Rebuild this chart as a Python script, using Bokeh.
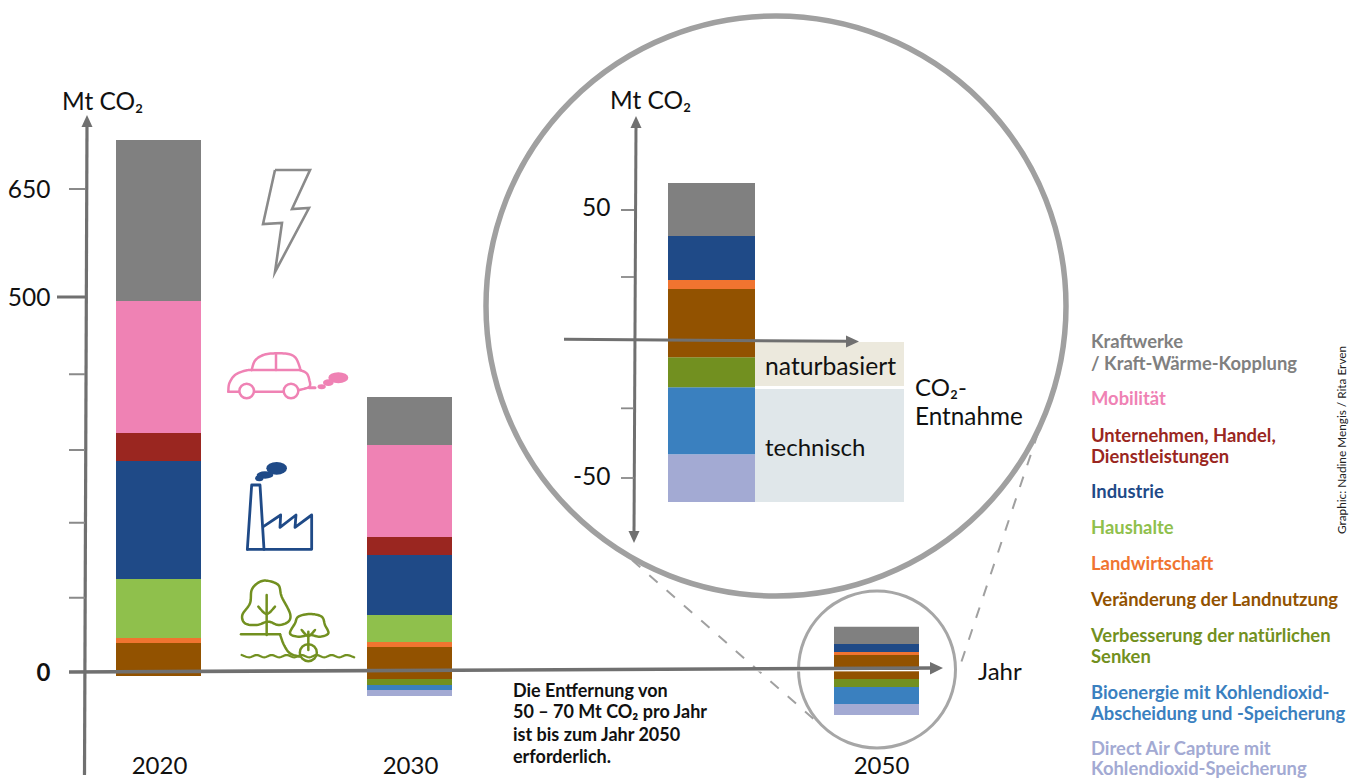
import numpy as np
from bokeh.plotting import figure
from bokeh.models import Range1d
from bokeh.core.properties import value
from bokeh.embed import file_html
from bokeh.resources import INLINE

# ---------- data ----------
SERIES = ["Direct Air Capture", "Bioenergie", "Verbesserung Senken", "Landnutzung", "Landwirtschaft",
          "Haushalte", "Industrie", "Unternehmen", "Mobilität", "Kraftwerke"]
BASE_2020 = -5.3
VALUES_2020 = [0, 0, 0, 44, 6.7, 78.7, 157.3, 37.3, 176, 214.7]
BASE_2030 = -32
VALUES_2030 = [8, 6.7, 8, 42.7, 6.7, 36, 80, 24, 122.7, 64]
BASE_2050 = -57.3
VALUES_2050 = [14.7, 22.7, 10.7, 32, 4, 0, 10.7, 0, 0, 22.7]
BASE_ZOOM = -59
VALUES_ZOOM = [17.9, 25, 11.2, 25.4, 3.4, 0, 16.4, 0, 0, 19.8]
YEARS = ["2020", "2030", "2050"]
MAIN_TICKS = [644, 500, 397, 296, 199, 99]
MAIN_LABELS = ["650", "500", "", "", "", ""]
ZOOM_TICKS = [50, 25, -24, -50]
ZOOM_LABELS = ["50", "", "", "-50"]
LEGEND = [
    ("Kraftwerke", "#808080"), ("/ Kraft-Wärme-Kopplung", "#808080"), ("Mobilität", "#EF82B4"),
    ("Unternehmen, Handel,", "#9A2620"), ("Dienstleistungen", "#9A2620"), ("Industrie", "#1F4A87"),
    ("Haushalte", "#8FC04C"), ("Landwirtschaft", "#F07430"), ("Veränderung der Landnutzung", "#925200"),
    ("Verbesserung der natürlichen", "#729020"), ("Senken", "#729020"),
    ("Bioenergie mit Kohlendioxid-", "#3A80BF"), ("Abscheidung und -Speicherung", "#3A80BF"),
    ("Direct Air Capture mit", "#A3AAD3"), ("Kohlendioxid-Speicherung", "#A3AAD3"),
]
NOTE = ["Die Entfernung von", "50 – 70 Mt CO₂ pro Jahr", "ist bis zum Jahr 2050", "erforderlich."]

# ---------- layout / style ----------
COLORS = ["#A3AAD3", "#3A80BF", "#729020", "#925200", "#F07430", "#8FC04C", "#1F4A87", "#9A2620", "#EF82B4", "#808080"]
LEGEND_Y = [340.5, 362.5, 397.5, 434.5, 455.5, 490.5, 526.5, 562.5, 598.5, 634.5, 655.5, 691.5, 712.5, 748, 767.5]
NOTE_Y = [689.5, 710.5, 733.5, 755.5]
FONT = value("Lato")
AXC = "#707070"
W, H = 1360, 778
ZERO_PX, MAIN_K = 672, 0.75
ZZERO_PX, ZOOM_K = 344, 2.68
SHIFT = 0.5  # small offset between the page's picture and the traced grid

p = figure(width=W, height=H, output_backend="svg", toolbar_location=None,
           x_range=Range1d(SHIFT, W + SHIFT),
           y_range=Range1d((ZERO_PX - H - SHIFT) / MAIN_K, (ZERO_PX - SHIFT) / MAIN_K),
           min_border=0, outline_line_color=None)
p.extra_y_ranges = {
    "px": Range1d(H + SHIFT, SHIFT),
    "zoom": Range1d((ZZERO_PX - H - SHIFT) / ZOOM_K, (ZZERO_PX - SHIFT) / ZOOM_K),
}
p.xaxis.visible = False
p.yaxis.visible = False
p.xgrid.visible = False
p.ygrid.visible = False


def stack(center, width, base, values, rng="default"):
    bottom = base
    for v, c in zip(values, COLORS):
        if v > 0:
            p.vbar(x=[center], width=width, bottom=[bottom], top=[bottom + v], fill_color=c,
                   line_color=None, y_range_name=rng)
        bottom += v


def smooth(pts, closed=False, n=8):
    pts = np.array(pts, float)
    if closed:
        P = np.vstack([pts[-1], pts, pts[0], pts[1]])
    else:
        P = np.vstack([pts[0], pts, pts[-1]])
    out = []
    for i in range(1, len(P) - 2):
        for t in np.linspace(0, 1, n, endpoint=False):
            a, b, c, d = P[i - 1], P[i], P[i + 1], P[i + 2]
            out.append(0.5 * (2 * b + (c - a) * t + (2 * a - 5 * b + 4 * c - d) * t ** 2 + (3 * b - a - 3 * c + d) * t ** 3))
    if not closed:
        out.append(P[-2])
    else:
        out.append(out[0])
    return np.array(out)


def px_line(xs, ys, color, width, **kw):
    p.line(list(xs), list(ys), line_color=color, line_width=width, y_range_name="px", **kw)


def tri(xs, ys, color=AXC):
    p.patch(xs, ys, fill_color=color, line_color=None, y_range_name="px")


def txt(x, y, s, size=24, color="#111111", align="left", bold=False, rng="px", angle=0):
    p.text([x], [y], text=[s], text_font=FONT, text_font_size=f"{size}px", text_color=color,
           text_align=align, text_baseline="middle", text_font_style="bold" if bold else "normal",
           y_range_name=rng, angle=angle)


# side boxes of the inset
p.quad(left=[755], right=[904], top=[342], bottom=[386], fill_color="#ECE9DD", line_color=None, y_range_name="px")
p.quad(left=[755], right=[904], top=[389], bottom=[502], fill_color="#E0E7EA", line_color=None, y_range_name="px")

# bars
stack(158.5, 85, BASE_2020, VALUES_2020)
stack(409.5, 85, BASE_2030, VALUES_2030)
stack(876.5, 85, BASE_2050, VALUES_2050)
stack(711.5, 87, BASE_ZOOM, VALUES_ZOOM, "zoom")

# circles and dashed connectors
p.circle(x=[776], y=[306], radius=290, fill_color=None, line_color="#A0A0A0", line_width=5.5, y_range_name="px")
p.circle(x=[877], y=[669.5], radius=78.5, fill_color=None, line_color="#A6A6A6", line_width=3, y_range_name="px")
px_line([632, 817], [560, 722], "#A0A0A0", 2, line_dash="11 12")
px_line([1038, 961], [433, 663], "#A0A0A0", 2, line_dash="11 12")

# main axes
px_line([87, 84.5], [124, 775], AXC, 3.2)
tri([87, 81.5, 92.5], [115, 127, 127])
px_line([350, 935], [670.9, 670.6], "#FFFFFF", 1.4)
px_line([69, 932], [672, 668], AXC, 3.6)
tri([943, 930, 930], [668, 662, 674.5])
for t, lab in zip(MAIN_TICKS, MAIN_LABELS):
    thick = lab == "500"
    p.segment(x0=[57 if thick else 69], x1=[85], y0=[t], y1=[t], line_color=AXC if thick else "#8A8A8A",
              line_width=3.2 if thick else 1.8)
    if lab:
        txt(50.5, t, lab, 24.5, align="right", rng="default")
txt(50.5, 0, "0", 24, align="right", bold=True, rng="default")

# inset axes
px_line([636, 634], [124, 535], AXC, 3)
tri([636, 630.5, 641.5], [116, 128, 128])
tri([634, 628.5, 639.5], [543, 531, 531])
px_line([564, 848], [339.3, 341.3], AXC, 3)
tri([859, 846, 846], [341.5, 335.5, 347.5])
for t, lab in zip(ZOOM_TICKS, ZOOM_LABELS):
    p.segment(x0=[621], x1=[634], y0=[t], y1=[t], line_color="#8A8A8A", line_width=1.8, y_range_name="zoom")
    if lab:
        txt(610.5, t + 1.2 if lab == "50" else t + 0.7, lab, 24.5, align="right", rng="zoom")


# icons: traced on a local grid
def ix(a):
    return 210 + np.asarray(a, float) / 3


def iy(a):
    return 340 + np.asarray(a, float) / 3


def icon(pts, color, width=2.5, is_smooth=False, closed=False):
    pts = np.array(pts, float)
    if is_smooth:
        pts = smooth(pts, closed)
    px_line(ix(pts[:, 0]), iy(pts[:, 1]), color, width, line_join="round", line_cap="round")


# bolt
px_line([275, 310, 292, 309, 275, 282, 263, 275], [170, 170, 209, 208, 272, 223, 224, 170], "#8A8A8A", 2.6,
        line_join="miter")

# car
PINK = "#EF82B4"
icon([(55, 155), (58, 130), (75, 105), (105, 92), (125, 90)], PINK, is_smooth=True)
icon([(125, 90), (270, 90)], PINK)
icon([(270, 90), (290, 100), (298, 120), (298, 140), (268, 150)], PINK, is_smooth=True)
icon([(55, 155), (90, 155)], PINK)
icon([(130, 155), (220, 155)], PINK)
icon([(125, 90), (135, 62), (160, 45), (195, 40), (235, 42), (258, 55), (272, 90)], PINK, is_smooth=True)
icon([(198, 40), (198, 90)], PINK)
p.circle(x=[ix(110), ix(243)], y=[iy(153), iy(153)], radius=7.3, fill_color="#FFFFFF", line_color=PINK,
         line_width=2.5, y_range_name="px")
icon([(298, 143), (315, 143)], PINK, 3)
for cx, cy, w, h in [(385, 113, 60, 33), (355, 128, 32, 20), (335, 140, 25, 15)]:
    p.ellipse(x=[ix(cx)], y=[iy(cy)], width=w / 3, height=h / 3, fill_color=PINK, line_color=None, y_range_name="px")

# factory
BLUE = "#1F4A87"
icon([(112, 628), (125, 435), (150, 435), (162, 628)], BLUE, 2.8)
icon([(112, 628), (305, 628), (305, 525), (255, 562), (258, 525), (210, 562), (212, 525), (160, 560)], BLUE, 2.8)
for cx, cy, w, h in [(200, 385, 62, 38), (165, 405, 50, 22), (148, 415, 25, 18)]:
    p.ellipse(x=[ix(cx)], y=[iy(cy)], width=w / 3, height=h / 3, fill_color=BLUE, line_color=None, y_range_name="px")

# trees
OLIVE = "#729020"
icon([(170, 722), (205, 735), (215, 770), (240, 820), (235, 845), (205, 855), (175, 845), (140, 855), (105, 850),
      (97, 825), (120, 790), (125, 750), (145, 728)], OLIVE, is_smooth=True, closed=True)
icon([(170, 765), (170, 885)], OLIVE)
icon([(145, 800), (170, 822), (195, 800)], OLIVE, is_smooth=True)
icon([(93, 883), (210, 883)], OLIVE)
icon([(210, 883), (222, 915), (240, 940), (270, 950)], OLIVE, is_smooth=True)
icon([(240, 880), (255, 850), (265, 830), (300, 822), (335, 830), (345, 855), (355, 880), (330, 890), (300, 885),
      (265, 890)], OLIVE, is_smooth=True, closed=True)
icon([(295, 875), (295, 930)], OLIVE)
icon([(275, 870), (295, 888), (315, 870)], OLIVE, is_smooth=True)
p.circle(x=[ix(295)], y=[iy(938)], radius=8.5, fill_color=None, line_color=OLIVE, line_width=2.5, y_range_name="px")
WAVE_X = np.arange(95, 440, 22.5)
icon([(x, 945 if i % 2 == 0 else 952) for i, x in enumerate(WAVE_X)], OLIVE, 2.2, is_smooth=True)

# text
txt(62, 100, "Mt CO₂", 24.5)
txt(610, 99, "Mt CO₂", 24.5)
txt(159.5, 765.5, YEARS[0], 24, align="center")
txt(410.5, 765.5, YEARS[1], 24, align="center")
txt(881.5, 765.5, YEARS[2], 24, align="center")
txt(978, 670.5, "Jahr")
txt(765, 365.5, "naturbasiert", 24.7)
txt(765, 446.5, "technisch")
txt(915, 386.5, "CO₂-")
txt(915, 415.5, "Entnahme", 24.3)
for s, y in zip(NOTE, NOTE_Y):
    txt(513, y, s, 18, bold=True)
for (s, c), y in zip(LEGEND, LEGEND_Y):
    txt(1091, y, s, 18.4, color=c, bold=True)
txt(1341, 534, "Graphic: Nadine Mengis / Rita Erven", 11.8, color="#222222", angle=np.pi / 2)

open("out.html", "w").write(file_html(p, INLINE))
